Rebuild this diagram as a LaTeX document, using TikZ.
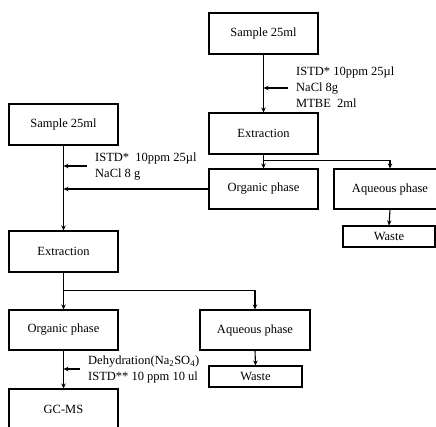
\documentclass[tikz,border=0pt]{standalone}
\usepackage{fontspec}
\setmainfont{Liberation Serif}
\usetikzlibrary{arrows.meta}
\begin{document}
\begin{tikzpicture}[x=1pt,y=-1pt,
  font=\fontsize{12.5}{16}\selectfont,
  box/.style={draw=black,line width=1.1pt,inner sep=0pt,anchor=center},
  arr/.style={line width=1.1pt,-{Stealth[length=5pt,width=4.5pt]}},
  ln/.style={line width=1.1pt},
  note/.style={anchor=west,align=left,inner sep=0pt}]
\useasboundingbox (0,0) rectangle (436,426);
\clip (0,0) rectangle (436,426);
% right column
\node[box,minimum width=109pt,minimum height=41pt] (s1) at (263.5,33.5) {Sample 25ml};
\node[box,minimum width=109pt,minimum height=41pt] (e1) at (263.5,133.5) {Extraction};
\node[box,minimum width=109pt,minimum height=40pt] (o1) at (263.5,189) {Organic phase};
\node[box,minimum width=112pt,minimum height=40pt] (a1) at (390,189) {Aqueous phase};
\node[box,minimum width=92pt,minimum height=21pt] (w1) at (389,236.5) {Waste};
% left column
\node[box,minimum width=109pt,minimum height=41pt] (s2) at (63.5,124.5) {Sample 25ml};
\node[box,minimum width=109pt,minimum height=41pt] (e2) at (63.5,251.5) {Extraction};
\node[box,minimum width=109pt,minimum height=40pt] (o2) at (63.5,330) {Organic phase};
\node[box,minimum width=110pt,minimum height=40pt] (a2) at (255,330) {Aqueous phase};
\node[box,minimum width=93pt,minimum height=21pt] (w2) at (255.5,376.5) {Waste};
\node[box,minimum width=109pt,minimum height=41pt] (g) at (63.5,409.5) {GC-MS};
% notes
\node[note] (n1) at (296,87.5) {ISTD* 10ppm 25µl\\NaCl 8g\\MTBE\ \ 2ml};
\node[note] (n2) at (95,167) {ISTD*\ \ 10ppm 25µl\\NaCl 8 g};
\node[note] (n3) at (88,369.5) {Dehydration(Na\textsubscript{2}SO\textsubscript{4})\\ISTD** 10 ppm 10 ul};
% coordinates
\coordinate (c1) at (288,88);
\coordinate (c2) at (87,166);
\coordinate (c3) at (80,369);
% right connectors
\draw[arr] (s1.south) -- (e1.north);
\draw[arr] (c1) -- (s1.south |- c1);
\draw[arr] (e1.south) -- (o1.north);
\draw[arr] (e1.south) -- ++(0,6) -| (a1.north);
\draw[arr] (a1.south) -- (w1.north);
% left connectors
\draw[arr] (s2.south) -- (e2.north);
\draw[arr] (c2) -- (s2.south |- c2);
\draw[arr] (o1.west) -- (s2.south |- o1.west);
\draw[arr] (e2.south) -- (o2.north);
\draw[arr] (e2.south) -- ++(0,18) -| (a2.north);
\draw[arr] (a2.south) -- (w2.north);
\draw[arr] (o2.south) -- (g.north);
\draw[arr] (c3) -- (o2.south |- c3);
\end{tikzpicture}
\end{document}
